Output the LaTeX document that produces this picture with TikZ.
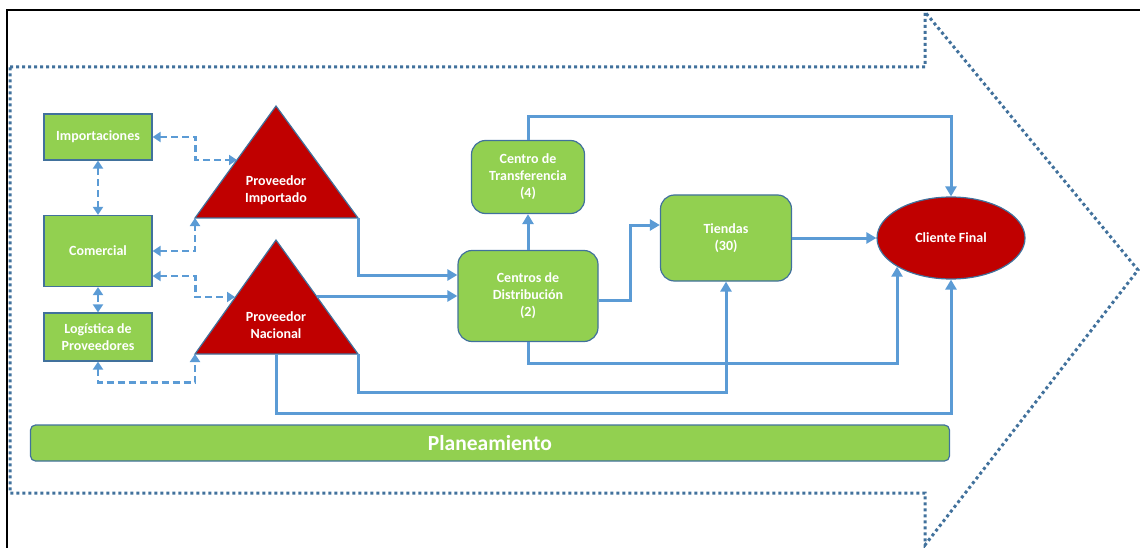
\documentclass[tikz,border=0pt]{standalone}
\usepackage{fontspec}
\setmainfont{Carlito}
\usetikzlibrary{shapes.geometric,arrows.meta}
\definecolor{verde}{HTML}{92D050}
\definecolor{rojo}{HTML}{C00000}
\definecolor{azul}{HTML}{5B9BD5}
\definecolor{borde}{HTML}{41719C}
\tikzset{
  caja/.style={draw=borde, fill=verde, line width=1.2pt, text=white, align=center,
    font=\bfseries\fontsize{14}{17}\selectfont, inner sep=0pt},
  redonda/.style={caja, rounded corners=14pt},
  texto/.style={text=white, align=center, font=\bfseries\fontsize{14}{17}\selectfont},
  flujo/.style={draw=azul, line width=3pt, -{Triangle[length=10pt,width=11pt]}},
  apoyo/.style={draw=azul, line width=2.8pt, dash pattern=on 7pt off 4pt,
    {Triangle[length=8pt,width=10pt]}-{Triangle[length=8pt,width=10pt]}},
}
\begin{document}
\begin{tikzpicture}[x=1pt,y=-1pt]
  \useasboundingbox (0,0) rectangle (1140,548);
  \draw[line width=1.8pt] (7,548) -- (7,10) -- (1140,10);
  \draw[borde, line width=3pt, dash pattern=on 3pt off 3pt]
    (10,67) -- (925,67) -- (925,12) -- (1138,270) -- (925,545) -- (925,493) -- (10,493) -- cycle;

  \node[caja, minimum width=108, minimum height=46] (imp) at (98,137) {Importaciones};
  \node[caja, minimum width=108, minimum height=71] (com) at (98,251) {Comercial};
  \node[caja, minimum width=108, minimum height=48] (log) at (98,337) {Logística de\\Proveedores};

  \coordinate (pi-a) at (276,106);
  \coordinate (pi-l) at (195,218);
  \coordinate (pi-r) at (358,218);
  \coordinate (pi-w) at (237,160);
  \filldraw[fill=rojo, draw=borde, line width=1.2pt] (pi-a) -- (pi-r) -- (pi-l) -- cycle;
  \node[texto] (pi) at (276,190) {Proveedor\\Importado};

  \coordinate (pn-a) at (276,240);
  \coordinate (pn-l) at (195,354);
  \coordinate (pn-r) at (358,354);
  \coordinate (pn-b) at (276,354);
  \coordinate (pn-w) at (235,297);
  \coordinate (pn-e) at (317,296);
  \filldraw[fill=rojo, draw=borde, line width=1.2pt] (pn-a) -- (pn-r) -- (pn-l) -- cycle;
  \node[texto] (pn) at (276,325) {Proveedor\\Nacional};

  \node[redonda, minimum width=113, minimum height=73] (ct) at (528,177) {Centro de\\Transferencia\\(4)};
  \node[redonda, minimum width=140, minimum height=91] (cd) at (528,296) {Centros de\\Distribución\\(2)};
  \node[redonda, minimum width=131, minimum height=86] (ti) at (726,238) {Tiendas\\(30)};
  \node[ellipse, draw=borde, fill=rojo, line width=1.2pt, minimum width=148, minimum height=82,
    texto] (cf) at (951,238) {Cliente Final};
  \node[caja, rounded corners=5pt, minimum width=919, minimum height=36,
    font=\bfseries\fontsize{21.5}{25}\selectfont] (pl) at (490,443) {Planeamiento};

  \draw[apoyo] (imp.east) -- ++(43,0) |- (pi-w);
  \draw[apoyo] (com.east) -| (pi-l);
  \draw[apoyo] ([yshift=-25pt]com.east) -- ++(43,0) |- (pn-w);
  \draw[apoyo] (log.south) -- ++(0,21) -| (pn-l);
  \draw[apoyo] (imp.south) -- (com.north);
  \draw[apoyo] (com.south) -- (log.north);

  \draw[flujo] (pi-r) |- ([yshift=21pt]cd.west);
  \draw[flujo] (pn-e) -- (cd.west);
  \draw[flujo] (pn-r) -- ++(0,38) -| (ti.south);
  \draw[flujo] (pn-b) -- ++(0,59) -| (cf.south);
  \draw[flujo] (cd.north) -- (ct.south);
  \draw[flujo] (ct.north) -- ++(0,-23) -| (cf.north);
  \draw[flujo] ([yshift=-4pt]cd.east) -- ++(32,0) |- ([yshift=13pt]ti.west);
  \draw[flujo] (cd.south) -- ++(0,21) -| (cf.-152);
  \draw[flujo] (ti.east) -- (cf.west);
\end{tikzpicture}
\end{document}
